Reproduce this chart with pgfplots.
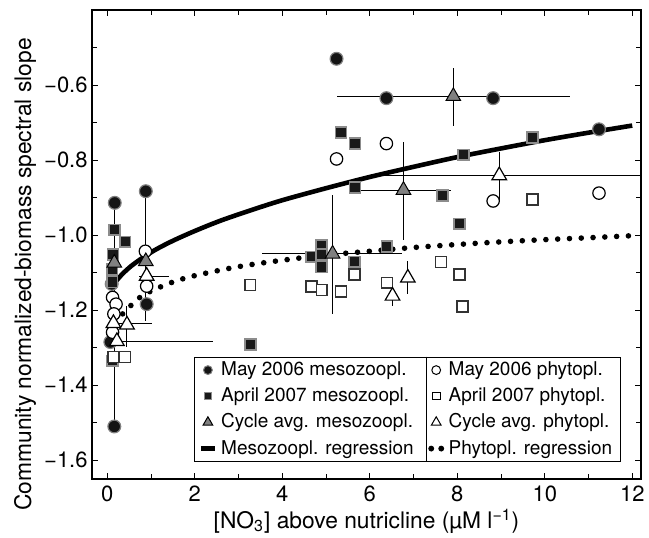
\documentclass[border=0pt]{standalone}
\usepackage{fontspec}
\setmainfont{TeX Gyre Heros}
\usepackage{pgfplots}
\pgfplotsset{compat=1.18}
\usepackage{pgfplotstable}

\pgfplotstableread{
x y
0.17 -0.914
0.10 -1.130
0.07 -1.285
0.16 -1.510
0.88 -0.883
0.90 -1.184
5.24 -0.530
6.38 -0.635
8.82 -0.635
11.24 -0.718
}\mayMeso

\pgfplotstableread{
x y
0.16 -0.986
0.41 -1.018
0.13 -1.052
0.11 -1.092
0.11 -1.125
0.12 -1.335
3.27 -1.291
4.67 -1.058
4.90 -1.027
4.90 -1.052
4.90 -1.085
5.34 -0.727
5.66 -0.756
5.66 -0.873
5.65 -1.071
6.39 -1.030
7.66 -0.894
8.05 -0.970
8.14 -0.786
9.72 -0.740
}\aprMeso

\pgfplotstableread{
x y xm xp ym yp
0.16 -1.074 0 0 0.436 0.160
0.88 -1.070 0 0 0.160 0.187
5.15 -1.050 1.62 1.59 0.160 0.156
6.77 -0.880 1.11 1.08 0.132 0.127
7.91 -0.630 2.65 2.66 0.079 0.075
}\cycMeso

\pgfplotstableread{
x y
0.87 -1.043
0.90 -1.136
0.12 -1.166
0.20 -1.184
0.15 -1.210
0.12 -1.259
5.24 -0.797
6.38 -0.756
8.82 -0.909
11.24 -0.888
}\mayPhyto

\pgfplotstableread{
x y
0.14 -1.325
0.40 -1.325
3.27 -1.133
4.67 -1.137
4.90 -1.146
5.34 -1.150
5.65 -1.105
6.39 -1.127
7.63 -1.072
8.05 -1.105
8.12 -1.190
9.72 -0.905
}\aprPhyto

\pgfplotstableread{
x y xm xp ym yp
0.14 -1.235 0.04 0.89 0 0
0.45 -1.239 0 0 0.060 0.050
0.22 -1.283 0 2.19 0 0
0.90 -1.109 0.18 0.50 0 0
6.52 -1.162 0 0 0.028 0.028
6.87 -1.114 0 0 0.044 0.044
8.96 -0.841 2.91 3.30 0.066 0.062
}\cycPhyto

\pgfplotstableread{
x y
0.10 -1.141
0.20 -1.123
0.35 -1.103
0.55 -1.082
0.80 -1.061
1.10 -1.039
1.50 -1.015
2.00 -0.989
2.60 -0.961
3.30 -0.933
4.00 -0.907
5.00 -0.875
6.00 -0.845
7.00 -0.818
8.00 -0.792
9.00 -0.769
10.00 -0.747
11.00 -0.727
12.00 -0.708
}\mesoReg

\pgfplotstableread{
x y
0.35 -1.210
0.70 -1.170
1.00 -1.149
1.50 -1.125
2.00 -1.108
3.00 -1.084
4.00 -1.067
5.00 -1.053
6.00 -1.043
7.00 -1.033
8.00 -1.025
9.00 -1.018
10.00 -1.012
11.00 -1.007
12.10 -1.001
}\phytoReg

\begin{document}
\begin{tikzpicture}
\begin{axis}[
  scale only axis, width=274.5pt, height=234.5pt,
  xmin=-0.35, xmax=12.2, ymin=-1.65, ymax=-0.4,
  xtick={0,2,...,12}, minor xtick={1,3,...,11},
  ytick={-1.6,-1.4,-1.2,-1.0,-0.8,-0.6},
  minor ytick={-1.5,-1.3,-1.1,-0.9,-0.7,-0.5},
  yticklabels={−1.6,−1.4,−1.2,−1.0,−0.8,−0.6},
  tick align=inside, major tick length=3pt, minor tick length=2.5pt,
  every tick/.style={black, line width=0.5pt},
  axis line style={line width=0.6pt},
  ticklabel style={font=\fontsize{11}{13}\selectfont},
  yticklabel style={inner xsep=2pt},
  /pgf/number format/assume math mode=true,
  xlabel={[NO\textsubscript{3}] above nutricline (µM l\textsuperscript{−1})},
  ylabel={Community normalized-biomass spectral slope},
  label style={font=\fontsize{11.4}{13}\selectfont},
  xlabel style={at={([yshift=-21pt]rel axis cs:0.5,0)}, anchor=center},
  ylabel style={at={([xshift=-33.5pt,yshift=-15pt]rel axis cs:0,0.5)}, anchor=center},
  legend columns=2, legend cell align=left,
  legend style={name=leg, at={(0.186,0.036)}, anchor=south west, draw=black,
    line width=0.5pt, font=\fontsize{9.5}{10}\selectfont, inner xsep=2pt, inner ysep=0pt,
    nodes={inner ysep=2.3pt}},
  legend image code/.code={\path (0pt,-2pt) (8pt,2pt); \draw[#1] plot coordinates {(4pt,0pt)};},
]
\coordinate (bl) at (rel axis cs:0,0);
\coordinate (tr) at (rel axis cs:1,1);
\coordinate (divx) at (axis cs:7.3,-1.5);

\addplot[forget plot, line width=2.3pt, smooth, black] table {\mesoReg};
\addplot[forget plot, line width=2.8pt, line cap=round, dash pattern=on 0pt off 5.9pt, smooth, black] table {\phytoReg};

\addplot[forget plot, only marks, mark=*, mark size=3.2pt,
  mark options={fill=black!92, draw=black!50, line width=0.6pt}] table {\mayMeso};
\addplot[forget plot, only marks, mark=square*, mark size=2.7pt,
  mark options={fill=black!90, draw=black!45, line width=0.8pt}] table {\aprMeso};
\addplot[forget plot, only marks, mark=*, mark size=3.1pt,
  mark options={fill=white, draw=black, line width=0.6pt}] table {\mayPhyto};
\addplot[forget plot, only marks, mark=square*, mark size=2.7pt,
  mark options={fill=white, draw=black!80, line width=0.7pt}] table {\aprPhyto};
\addplot[forget plot, only marks, mark=triangle*, mark size=4.2pt,
  mark options={fill=black!50, draw=black, line width=0.5pt},
  error bars/.cd, x dir=both, y dir=both, x explicit, y explicit, error mark=none,
  error bar style={line width=0.5pt, black}]
  table[x=x, y=y, x error plus=xp, x error minus=xm, y error plus=yp, y error minus=ym] {\cycMeso};
\addplot[forget plot, only marks, mark=triangle*, mark size=4.2pt,
  mark options={fill=white, draw=black, line width=0.6pt},
  error bars/.cd, x dir=both, y dir=both, x explicit, y explicit, error mark=none,
  error bar style={line width=0.5pt, black}]
  table[x=x, y=y, x error plus=xp, x error minus=xm, y error plus=yp, y error minus=ym] {\cycPhyto};

\addlegendimage{only marks, mark=*, mark size=2.2pt, mark options={fill=black!92, draw=black!50}}
\addlegendentry{May 2006 mesozoopl.\hspace*{5pt}}
\addlegendimage{only marks, mark=*, mark size=2.2pt, mark options={fill=white, draw=black, line width=0.5pt}}
\addlegendentry{May 2006 phytopl.}
\addlegendimage{only marks, mark=square*, mark size=1.9pt, mark options={fill=black!90, draw=black!45}}
\addlegendentry{April 2007 mesozoopl.\hspace*{5pt}}
\addlegendimage{only marks, mark=square*, mark size=1.9pt, mark options={fill=white, draw=black, line width=0.5pt}}
\addlegendentry{April 2007 phytopl.}
\addlegendimage{only marks, mark=triangle*, mark size=2.8pt, mark options={fill=black!50, draw=black}}
\addlegendentry{Cycle avg. mesozoopl.\hspace*{5pt}}
\addlegendimage{only marks, mark=triangle*, mark size=2.8pt, mark options={fill=white, draw=black, line width=0.5pt}}
\addlegendentry{Cycle avg. phytopl.}
\addlegendimage{legend image code/.code={\path (0pt,-2pt) (8pt,2pt); \draw[line width=2.3pt] (0.5pt,0pt) -- (7.5pt,0pt);}}
\addlegendentry{Mesozoopl. regression\hspace*{5pt}}
\addlegendimage{legend image code/.code={\path (0pt,-2pt) (8pt,2pt); \fill (1.5pt,0pt) circle (1.2pt); \fill (6.5pt,0pt) circle (1.2pt);}}
\addlegendentry{Phytopl. regression}
\end{axis}
\draw[line width=0.5pt] (divx |- leg.north) -- (divx |- leg.south);
\pgfresetboundingbox
\path ([shift={(-46pt,-29pt)}]bl) rectangle ([shift={(4pt,5pt)}]tr);
\end{tikzpicture}
\end{document}
